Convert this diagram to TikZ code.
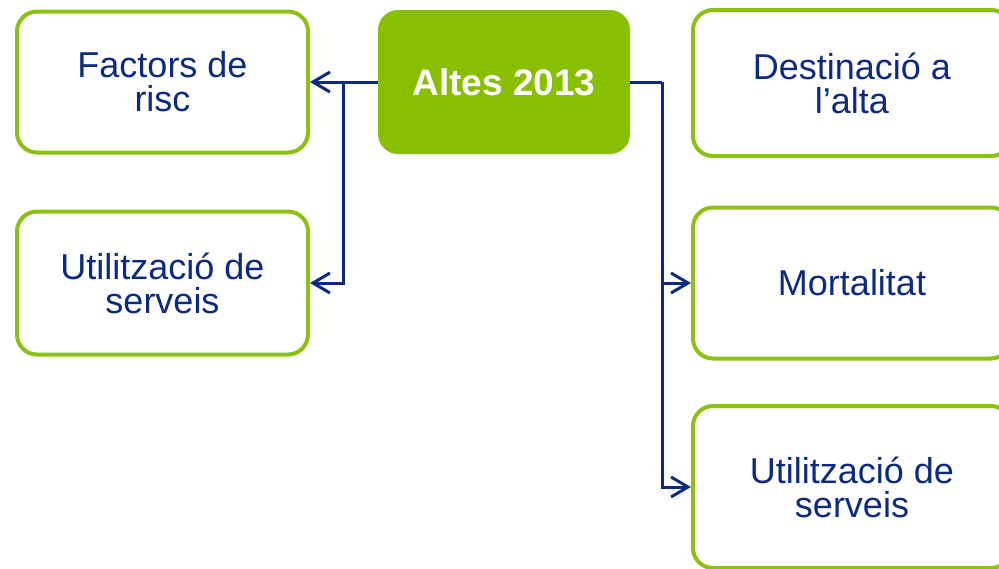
\documentclass[tikz,border=0pt]{standalone}
\usepackage{fontspec}
\setmainfont{Liberation Sans}
\usetikzlibrary{arrows.meta}
\definecolor{altgreen}{RGB}{136,191,0}
\definecolor{boxgreen}{RGB}{140,193,18}
\definecolor{navy}{RGB}{12,43,128}
\begin{document}
\begin{tikzpicture}[x=1pt, y=-1pt,
		box/.style={draw=boxgreen, line width=4pt, fill=white, rounded corners=20pt,
			align=center, text=navy, font=\fontsize{36}{34}\selectfont},
		head/.style={fill=altgreen, rounded corners=20pt, align=center, text=white,
			font=\fontsize{37}{34}\selectfont\bfseries},
		conn/.style={navy, line width=3pt},
		arr/.style={conn, -{Straight Barb[length=17pt,width=20pt]}}]
				\useasboundingbox (0,0) rectangle (999,568);
				% boxes
				\node[head, minimum width=252pt, minimum height=144pt] (altes) at (504,82) {Altes 2013};
				\node[box, minimum width=291pt, minimum height=141pt] (fact) at (162.5,82) {Factors de\\risc};
				\node[box, minimum width=291pt, minimum height=143pt] (usl) at (162.5,283) {Utilització de\\serveis};
				\node[box, minimum width=318pt, minimum height=146pt] (dest) at (852,83) {Destinació a\\l’alta};
				\node[box, minimum width=318pt, minimum height=151pt] (mort) at (852,283) {Mortalitat};
				\node[box, minimum width=318pt, minimum height=162pt] (usr) at (852,487) {Utilització de\\serveis};
				% connectors
				\coordinate (jl) at (343,82);
				\coordinate (jr) at (662,82);
				\draw[conn] (altes.west) -- (jl);
				\draw[arr] (jl) -- (fact.east);
				\draw[arr] (jl) |- (usl.east);
				\draw[conn] (altes.east) -- (jr);
				\draw[arr] (jr) |- (mort.west);
				\draw[arr] (jr) |- (usr.west);
			\end{tikzpicture}
\end{document}
